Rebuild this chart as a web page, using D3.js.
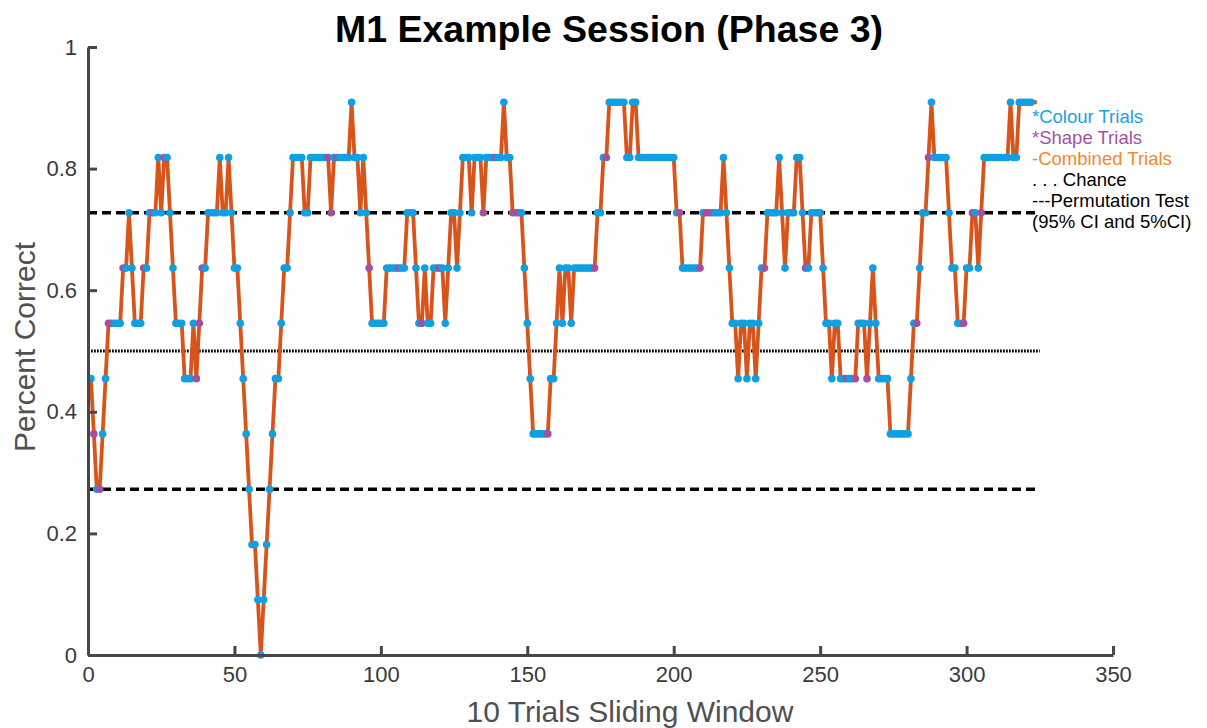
<!DOCTYPE html>
<html>
<head>
<meta charset="utf-8">
<script src="https://cdn.jsdelivr.net/npm/d3@7"></script>
<style>
  html, body { margin: 0; padding: 0; background: #ffffff; }
  svg { display: block; }
  text { font-family: "Liberation Sans", Arial, Helvetica, sans-serif; }
</style>
</head>
<body>
<svg id="chart" width="1207" height="728"></svg>
<script>
// Correct responses inside each sliding window (window positions 1..324)
const correctInWindow = [
  5,4,3,3,4,5,6,6,6,6,   6,7,7,8,7,6,6,6,7,7,
  8,8,8,9,8,9,9,8,7,6,   6,6,5,5,5,6,5,6,7,7,
  8,8,8,8,9,8,8,9,8,7,   7,6,5,4,3,2,2,1,0,1,
  2,3,4,5,5,6,7,7,8,9,   9,9,9,8,8,9,9,9,9,9,
  9,9,8,9,9,9,9,9,9,10,  9,9,8,9,8,7,6,6,6,6,
  6,7,7,7,7,7,7,7,8,8,   8,7,6,6,7,6,6,7,7,7,
  7,6,7,8,8,7,8,9,9,9,   8,9,9,9,8,9,9,9,9,9,
  9,10,9,9,8,8,8,8,7,6,  5,4,4,4,4,4,4,5,5,6,
  7,6,7,7,6,7,7,7,7,7,   7,7,7,8,8,9,9,10,10,10,
  10,10,10,9,9,10,10,9,9,9, 9,9,9,9,9,9,9,9,9,9,
  8,8,7,7,7,7,7,7,7,8,   8,8,8,8,8,8,9,8,7,6,
  6,5,6,6,5,6,6,5,6,7,   7,8,8,8,8,9,8,7,8,8,
  8,9,9,8,7,7,8,8,8,8,   7,6,6,5,6,6,5,5,5,5,
  5,5,6,6,6,5,6,7,6,5,   5,5,5,4,4,4,4,4,4,4,
  5,6,6,7,8,8,9,10,9,9,  9,9,9,8,7,7,6,6,6,7,
  7,8,8,7,8,9,9,9,9,9,   9,9,9,9,10,9,9,10,10,10,
  10,10,10,10
];
const windowSize = 11;

// Window positions whose newest trial was a shape trial (the rest are colour trials)
const shapeTrialPoints = [2,4,7,8,12,19,22,26,37,38,39,82,83,85,96,106,114,120,135,139,
  145,146,147,157,173,177,202,209,211,212,213,231,245,259,262,266,283,287,299,302,305];
const markedPoints = 322;

const chanceLevel = 0.5;
const permutationBounds = [0.2727, 0.7273];
const referenceEnd = 325;

const xTicks = [0, 50, 100, 150, 200, 250, 300, 350];
const yTicks = [0, 0.2, 0.4, 0.6, 0.8, 1];
const yTickLabels = ["0", "0.2", "0.4", "0.6", "0.8", "1"];

const titleText = "M1 Example Session (Phase 3)";
const xLabel = "10 Trials Sliding Window";
const yLabel = "Percent Correct";

const legendLines = [
  { text: "*Colour Trials", color: "#1aa1e2" },
  { text: "*Shape Trials", color: "#a5519f" },
  { text: "-Combined Trials", color: "#ef8a2d" },
  { text: ". . . Chance", color: "#000000" },
  { text: "---Permutation Test", color: "#000000" },
  { text: "(95% CI and 5%CI)", color: "#000000" }
];

const colourMarker = "#0fa0e2";
const shapeMarker = "#a4509e";
const combinedLine = "#d9541a";
const axisColor = "#474747";

// ---- build the chart ----
const svg = d3.select("#chart");

const x = d3.scaleLinear().domain([0, 350]).range([88, 1113]);
const y = d3.scaleLinear().domain([0, 1]).range([655, 47]);

const points = correctInWindow.map((c, i) => ({ pos: i + 1, value: c / windowSize }));
const shapeSet = new Set(shapeTrialPoints);

// reference lines
const refs = svg.append("g");
refs.append("line")
  .attr("x1", x(0)).attr("x2", x(referenceEnd))
  .attr("y1", y(chanceLevel)).attr("y2", y(chanceLevel))
  .attr("stroke", "#000").attr("stroke-width", 3)
  .attr("stroke-dasharray", "1.8,1.2");
permutationBounds.forEach(b => {
  refs.append("line")
    .attr("x1", x(0)).attr("x2", x(referenceEnd))
    .attr("y1", y(b)).attr("y2", y(b))
    .attr("stroke", "#000").attr("stroke-width", 3.5)
    .attr("stroke-dasharray", "9,5");
});

// combined trials line
const line = d3.line().x(d => x(d.pos)).y(d => y(d.value));
svg.append("path")
  .datum(points)
  .attr("d", line)
  .attr("fill", "none")
  .attr("stroke", combinedLine)
  .attr("stroke-width", 3.8)
  .attr("stroke-linejoin", "round");

// colour / shape trial markers
svg.append("g").selectAll("circle")
  .data(points.slice(0, markedPoints))
  .join("circle")
  .attr("cx", d => x(d.pos))
  .attr("cy", d => y(d.value))
  .attr("r", 3.8)
  .attr("fill", d => shapeSet.has(d.pos) ? shapeMarker : colourMarker);

// axes
const xAxis = d3.axisBottom(x).tickValues(xTicks).tickFormat(d3.format("d"))
  .tickSizeInner(-9).tickSizeOuter(0).tickPadding(11);
const yAxis = d3.axisLeft(y).tickValues(yTicks).tickFormat((d, i) => yTickLabels[i])
  .tickSizeInner(-9).tickSizeOuter(0).tickPadding(11);

const gx = svg.append("g").attr("transform", `translate(0,${y(0)})`).call(xAxis);
const gy = svg.append("g").attr("transform", `translate(${x(0)},0)`).call(yAxis);

[gx, gy].forEach(g => {
  g.select(".domain").attr("stroke", axisColor).attr("stroke-width", 3);
  g.selectAll(".tick line").attr("stroke", axisColor).attr("stroke-width", 3);
  g.selectAll(".tick text")
    .attr("fill", "#3a3a3a")
    .style("font-size", "22px")
    .style("font-family", '"Liberation Sans", Arial, sans-serif');
});

// title and axis labels
svg.append("text")
  .attr("x", 609).attr("y", 42)
  .attr("text-anchor", "middle")
  .style("font-size", "37.5px").style("font-weight", "bold")
  .attr("fill", "#000")
  .text(titleText);

svg.append("text")
  .attr("x", 630).attr("y", 722)
  .attr("text-anchor", "middle")
  .style("font-size", "30px")
  .attr("fill", "#505050")
  .text(xLabel);

svg.append("text")
  .attr("transform", "translate(35,347) rotate(-90)")
  .attr("text-anchor", "middle")
  .style("font-size", "30px")
  .attr("fill", "#505050")
  .text(yLabel);

// legend text block
svg.append("g").selectAll("text")
  .data(legendLines)
  .join("text")
  .attr("x", 1032)
  .attr("y", (d, i) => 123 + i * 21)
  .style("font-size", "18.5px")
  .attr("fill", d => d.color)
  .text(d => d.text);
</script>
</body>
</html>
